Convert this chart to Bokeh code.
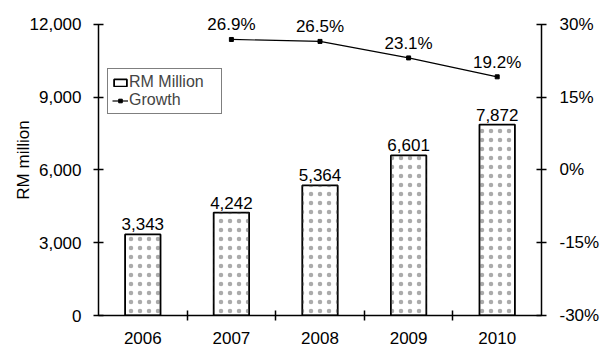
from bokeh.plotting import figure
from bokeh.models import (ColumnDataSource, Range1d, LinearAxis, FixedTicker,
                          NumeralTickFormatter, Legend, LegendItem, LabelSet)
from bokeh.core.properties import value
from bokeh.embed import file_html
from bokeh.resources import INLINE

years = ["2006", "2007", "2008", "2009", "2010"]
rm_million = [3343, 4242, 5364, 6601, 7872]
growth_years = ["2007", "2008", "2009", "2010"]
growth = [26.9, 26.5, 23.1, 19.2]
left_ticks = [0, 3000, 6000, 9000, 12000]
right_ticks = [-30, -15, 0, 15, 30]

FONT = "Liberation Sans"
xpos = list(range(len(years)))
gx = [years.index(y) for y in growth_years]

# frame extends 20px above the axes' top so labels near the top are not clipped
AX_PX, EXTRA_PX = 292, 20
L_MAX = left_ticks[-1]
R_MIN, R_MAX = right_ticks[0], right_ticks[-1]
l_end = L_MAX * (AX_PX + EXTRA_PX) / AX_PX
r_end = R_MIN + (R_MAX - R_MIN) * (AX_PX + EXTRA_PX) / AX_PX

bar_src = ColumnDataSource(dict(x=xpos, top=rm_million,
                                lab=[f"{v:,}" for v in rm_million]))
g_src = ColumnDataSource(dict(x=gx, y=growth, lab=[f"{v:.1f}%" for v in growth]))

p = figure(width=606, height=346, output_backend="svg", toolbar_location=None,
           x_range=Range1d(-0.5, len(years) - 0.5), y_range=Range1d(0, l_end),
           min_border_left=98, min_border_right=65, min_border_top=4,
           min_border_bottom=30)
p.outline_line_color = None
p.grid.visible = False
p.background_fill_color = "white"
p.border_fill_color = "white"
p.extra_y_ranges = {"g": Range1d(R_MIN, r_end)}

# bottom axis
xa = p.xaxis[0]
xa.ticker = FixedTicker(ticks=xpos, minor_ticks=[i + 0.5 for i in xpos[:-1]])
xa.major_label_overrides = {i: y for i, y in zip(xpos, years)}
xa.major_tick_line_color = None
xa.minor_tick_in = 5
xa.minor_tick_out = 5
xa.minor_tick_line_color = "black"
xa.minor_tick_line_width = 1.5
xa.axis_line_width = 1.5
xa.major_label_standoff = 10
xa.major_label_text_font = FONT
xa.major_label_text_font_size = "17px"
xa.major_label_text_color = "black"

# left axis
ya = p.yaxis[0]
ya.ticker = FixedTicker(ticks=left_ticks)
ya.bounds = (0, L_MAX)
ya.formatter = NumeralTickFormatter(format="0,0")
ya.minor_tick_line_color = None
ya.major_tick_in = 5
ya.major_tick_out = 5
ya.major_tick_line_width = 1.5
ya.axis_line_width = 1.5
ya.major_label_standoff = 12
ya.major_label_text_font = FONT
ya.major_label_text_font_size = "17px"
ya.major_label_text_color = "black"
ya.axis_label = "RM million"
ya.axis_label_text_font = FONT
ya.axis_label_text_font_style = "normal"
ya.axis_label_text_font_size = "17px"
ya.axis_label_text_color = "black"
ya.axis_label_standoff = -6

# right axis
ra = LinearAxis(y_range_name="g", ticker=FixedTicker(ticks=right_ticks),
                bounds=(R_MIN, R_MAX))
ra.major_label_overrides = {t: f"{t}%" for t in right_ticks}
ra.minor_tick_line_color = None
ra.major_tick_in = 5
ra.major_tick_out = 5
ra.major_tick_line_width = 1.5
ra.axis_line_width = 1.5
ra.major_label_standoff = 13
ra.major_label_text_font = FONT
ra.major_label_text_font_size = "17px"
ra.major_label_text_color = "black"
p.add_layout(ra, "right")

bars = p.vbar(x="x", top="top", width=0.4, bottom=0, source=bar_src,
              fill_color="white", line_color="black", line_width=1.8)
p.vbar(x="x", top="top", width=0.4, bottom=0, source=bar_src,
       fill_alpha=0, line_color=None,
       hatch_pattern="dot", hatch_scale=9, hatch_weight=0.7,
       hatch_color="#444444", hatch_alpha=0.45)

p.add_layout(LabelSet(x="x", y="top", text="lab", source=bar_src,
                      text_align="center", text_baseline="bottom", y_offset=4,
                      text_font=value(FONT), text_font_size="17px",
                      text_color="black"))

ln = p.line(x="x", y="y", source=g_src, y_range_name="g", line_color="black",
            line_width=1.2)
pts = p.scatter(x="x", y="y", source=g_src, y_range_name="g", marker="square",
                size=4, fill_color="black", line_color="black")
p.add_layout(LabelSet(x="x", y="y", text="lab", source=g_src, y_range_name="g",
                      text_align="center", text_baseline="bottom", y_offset=5,
                      text_font=value(FONT), text_font_size="17px",
                      text_color="black"))

legend = Legend(items=[LegendItem(label="RM Million", renderers=[bars]),
                       LegendItem(label="Growth", renderers=[ln, pts])],
                location=(9, 201), label_text_font=FONT,
                label_text_font_size="16px", label_standoff=1,
                glyph_width=16, glyph_height=9, spacing=0, padding=4,
                margin=0, border_line_color="black", border_line_width=1.5,
                label_height=17, label_width=88)
p.add_layout(legend, "center")

open("out.html", "w").write(file_html(p, INLINE))
